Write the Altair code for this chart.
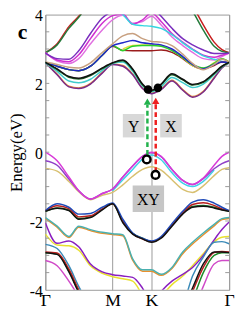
import altair as alt
import pandas as pd

# k-path positions (Γ-M-K-Γ, hexagonal path lengths)
K_PATH = [0.0, 0.175, 0.350, 0.496, 0.671, 0.846, 1.0, 1.152, 1.298, 1.444,
          1.577, 1.721, 1.882, 2.042, 2.188, 2.348, 2.509, 2.625, 2.732]
K_TICKS = [0.0, 1.0, 1.577, 2.732]
K_LABELS = ["Γ", "M", "K", "Γ"]
E_TICKS = [-4, -3, -2, -1, 0, 1, 2, 3, 4]
E_MINOR = [-3.5, -3, -2.5, -2, -1.5, -1, -0.5, 0, 0.5, 1, 1.5, 2, 2.5, 3, 3.5]
N = None

# ---- conduction bands ----
red_top = [2.89, 3.15, 3.65, 3.95, 4.4, 4.8, 5.0, 5.1, 5.1, 5.1, 5.1, 5.0, 4.9, 4.6, 4.25, 3.7, 3.2, 2.98, 2.89]
green_top = [2.89, 3.12, 3.6, 3.92, 4.38, 4.8, 5.0, 5.1, 5.1, 5.1, 5.1, 5.0, 4.85, 4.5, 4.1, 3.55, 3.08, 2.93, 2.89]
violet_c = [2.88, 2.72, 2.7, 2.95, 3.45, 3.9, 4.1, 4.2, 4.25, 4.3, 4.25, 3.95, 3.6, 3.3, 3.12, 2.97, 2.87, 2.87, 2.88]
magenta_c1 = [2.89, 2.68, 2.63, 2.83, 3.3, 3.75, 3.97, 4.02, 3.72, 3.85, 4.05, 3.8, 3.45, 3.2, 3.0, 2.82, 2.76, 2.82, 2.88]
magenta_c2 = [2.9, 2.65, 2.58, 2.72, 3.15, 3.55, 3.85, 3.98, 3.75, 3.8, 3.95, 3.7, 3.35, 3.1, 2.9, 2.72, 2.68, 2.78, 2.88]
cyan_c = [N, N, N, N, N, N, 4.2, 4.0, 3.72, 3.68, 3.66, 3.6, 3.42, 3.18, 2.98, 2.8, 2.7, 2.64, 2.62]
blue_c = [2.61, 2.5, 2.4, 2.37, 2.5, 2.82, 3.1, 3.18, 3.25, 3.18, 3.15, 3.12, 3.0, 2.78, 2.55, 2.42, 2.55, 2.62, 2.61]
tan_c = [2.62, 2.55, 2.47, 2.45, 2.6, 2.9, 3.15, 3.38, 3.45, 3.3, 3.22, 3.2, 3.1, 2.85, 2.58, 2.4, 2.55, 2.7, 2.62]
green_c = [2.61, 2.5, 2.4, 2.37, 2.5, 2.82, 3.1, 2.95, 3.08, 3.1, 3.1, 3.08, 2.95, 2.75, 2.55, 2.45, 2.58, 2.72, 2.62]
darkred_c = [2.61, 2.5, 2.4, 2.37, 2.5, 2.82, 3.08, 2.96, 2.95, 2.95, 2.95, 2.97, 2.9, 2.72, 2.52, 2.43, 2.52, 2.62, 2.61]
yellow_c = [N, N, N, N, N, N, N, 3.0, 3.1, 3.12, 3.12, 3.1, 2.97, 2.75, 2.52, 2.42, 2.6, 2.72, 2.62]
black_c = [2.61, 2.42, 2.2, 2.15, 2.25, 2.45, 2.6, 2.68, 2.42, 1.98, 1.8, 1.98, 2.28, 2.12, 1.97, 2.05, 2.3, 2.5, 2.61]
dkgreen_c = [2.61, 2.4, 2.18, 2.13, 2.23, 2.43, 2.59, 2.66, 2.4, 1.96, 1.78, 1.96, 2.25, 2.1, 1.95, 2.03, 2.28, 2.49, 2.61]
cyan_c1 = [2.6, 2.35, 2.07, 2.02, 2.12, 2.38, 2.58, 2.62, 2.35, 1.93, 1.76, 1.9, 2.17, 2.02, 1.88, 1.98, 2.25, 2.48, 2.6]
purple_c1 = [2.6, 2.25, 1.9, 1.85, 1.98, 2.3, 2.55, 2.5, 2.25, 1.85, 1.7, 1.82, 2.07, 1.8, 1.6, 1.75, 2.15, 2.45, 2.6]
orange_c1 = [2.6, 2.27, 1.92, 1.87, 2.0, 2.32, 2.56, 2.52, 2.27, 1.87, 1.72, 1.84, 2.09, 1.82, 1.62, 1.77, 2.17, 2.46, 2.6]

# ---- valence bands ----
magenta_v = [0.0, -0.25, -0.72, -1.12, -1.36, -1.2, -1.07, -0.72, -0.4, -0.12, 0.0, -0.12, -0.5, -0.82, -0.94, -0.75, -0.38, -0.12, 0.0]
violet_v = [-0.25, -0.38, -0.78, -1.12, -1.36, -1.2, -1.07, -0.72, -0.4, -0.12, -0.02, -0.13, -0.5, -0.82, -0.94, -0.77, -0.48, -0.33, -0.25]
cyan_v = [N, N, N, N, N, N, -1.12, -0.8, -0.5, -0.2, -0.08, -0.22, -0.6, -0.9, -1.0, -0.85, -0.52, N, N]
tan_v = [-0.47, -0.55, -0.85, -1.15, -1.38, -1.25, -1.17, -0.95, -0.7, -0.5, -0.42, -0.52, -0.8, -1.08, -1.17, -0.98, -0.68, -0.5, -0.45]
blue_v2 = [-1.7, -1.5, -1.6, -1.8, -1.78, -1.6, -1.48, -1.95, -2.35, -2.5, -2.58, -2.45, -2.08, -1.72, -1.45, -1.38, -1.48, -1.6, -1.7]
red_v2 = [-1.7, -1.56, -1.64, -1.88, -1.85, -1.65, -1.5, -2.0, -2.37, -2.52, -2.6, -2.48, -2.12, -1.76, -1.52, -1.47, -1.55, -1.65, -1.7]
black_v2 = [-1.72, -1.63, -1.7, -1.95, -1.9, -1.68, -1.5, -2.05, -2.38, -2.52, -2.62, -2.5, -2.15, -1.8, -1.6, -1.57, -1.62, -1.68, -1.72]
green_v2 = [-1.72, -1.62, -1.68, -1.93, -1.88, -1.66, -1.5, -2.02, -2.36, -2.5, -2.6, -2.48, -2.13, -1.78, -1.58, -1.55, -1.6, -1.67, -1.72]
teal_v3 = [-1.9, -2.15, -2.45, -2.15, -2.25, -2.33, -2.37, -2.4, -3.1, -3.42, -3.42, -3.55, -3.35, -2.9, -2.62, -2.35, -2.1, -1.93, -1.9]
orange_v3 = [-1.93, -2.18, -2.48, -2.18, -2.28, -2.36, -2.39, -2.43, -3.14, -3.46, -3.46, -3.58, -3.38, -2.95, -2.67, -2.4, -2.14, -1.96, -1.93]
purple_v4 = [-2.05, -2.65, -2.58, -2.75, -3.25, -3.48, -3.56, -3.6, -3.64, -3.95, -4.4, -4.05, -3.75, -3.55, -3.35, -3.0, -2.55, -2.25, -2.03]
yellow_v4 = [-2.38, -2.7, -2.72, -2.85, -3.3, -3.52, -3.62, -3.68, -3.75, -4.15, -4.5, -4.2, -3.85, -3.6, -3.3, -2.95, -2.6, -2.47, -2.45]
red_v5 = [-2.9, -2.93, -3.4, -4.0, -4.6, -5.0, -5.2, -5.3, -5.3, -5.3, -5.3, -5.3, -5.2, -4.7, -4.05, -3.35, -2.92, -2.89, -2.9]
black_v5 = [-2.92, -2.97, -3.48, -4.08, -4.7, -5.0, -5.2, -5.3, -5.3, -5.3, -5.3, -5.3, -5.2, -4.6, -3.95, -3.25, -2.9, -2.9, -2.92]
dkgreen_v5 = [-2.92, -2.95, -3.45, -4.05, -4.65, -5.0, -5.2, -5.3, -5.3, -5.3, -5.3, -5.3, -5.2, -4.9, -4.3, -3.5, -3.0, -2.92, -2.92]
teal_v5 = [-2.68, -2.8, -3.3, -3.9, -4.5, -5.0, -5.2, -5.3, -5.3, -5.3, -5.3, -5.3, -5.2, -4.5, -3.6, -3.05, -2.62, -2.6, -2.66]
magenta_v5 = [-3.15, -3.3, -3.75, -4.2, -4.8, -5.2, -5.3, -5.3, -5.3, -5.3, -5.3, -5.3, -5.3, -5.2, -4.7, -3.9, -3.25, -3.15, -3.15]

BANDS = [
    ("red_top", "#c81e1e", red_top), ("green_top", "#237a3a", green_top),
    ("magenta_c2", "#e070e0", magenta_c2), ("magenta_c1", "#d02ed0", magenta_c1),
    ("violet_c", "#7a2fbe", violet_c), ("cyan_c", "#33d6e0", cyan_c),
    ("darkred_c", "#9b1c1c", darkred_c), ("yellow_c", "#e6dc3c", yellow_c),
    ("green_c", "#2bd02b", green_c), ("blue_c", "#1f28c8", blue_c), ("tan_c", "#c8a080", tan_c),
    ("orange_c1", "#e0903a", orange_c1), ("purple_c1", "#7a2a8a", purple_c1),
    ("cyan_c1", "#40cccc", cyan_c1), ("dkgreen_c", "#1f6a2a", dkgreen_c), ("black_c", "#111111", black_c),
    ("tan_v", "#d8c070", tan_v), ("cyan_v", "#40d0e8", cyan_v),
    ("violet_v", "#9040c8", violet_v), ("magenta_v", "#d83ad8", magenta_v),
    ("green_v2", "#1f7a2a", green_v2), ("red_v2", "#b81e1e", red_v2),
    ("blue_v2", "#1f4ab8", blue_v2), ("black_v2", "#111111", black_v2),
    ("orange_v3", "#e8902e", orange_v3), ("teal_v3", "#4ab0b0", teal_v3),
    ("yellow_v4", "#e8e030", yellow_v4), ("purple_v4", "#8a1fc0", purple_v4),
    ("magenta_v5", "#d04ac8", magenta_v5), ("teal_v5", "#3a8ab8", teal_v5),
    ("dkgreen_v5", "#1f8a2a", dkgreen_v5), ("red_v5", "#b81e1e", red_v5), ("black_v5", "#111111", black_v5),
]

# ---- annotations ----
DOT_K = [1.527, 1.673]
DOT_E = [1.82, 1.87]
HOLE_K = [1.507, 1.638]
HOLE_E = [-0.21, -0.66]
ARROW_K = [1.517, 1.641]
ARROW_FROM = [-0.08, -0.58]
ARROW_TO = [1.38, 1.4]
ARROW_HEAD = [1.47, 1.49]
ARROW_COLOR = ["#22b24c", "#ee2020"]
BOX_TEXT = ["Y", "X", "XY"]
BOX_K1 = [1.152, 1.707, 1.298]
BOX_K2 = [1.473, 2.028, 1.765]
BOX_E1 = [0.43, 0.43, -1.74]
BOX_E2 = [1.11, 1.11, -0.97]
BOX_FILL = ["#d8d8d8", "#d8d8d8", "#c6c6c6"]
PANEL_LABEL = "c"
PANEL_K = [-0.34]
PANEL_E = [3.5]

FONT = "Liberation Serif"

rows = []
for name, col, vals in BANDS:
    for k, e in zip(K_PATH, vals):
        if e is not None:
            rows.append({"band": name, "k": k, "E": e})
bands_df = pd.DataFrame(rows)

xscale = alt.Scale(domain=[0, 2.732], nice=False, zero=False)
yscale = alt.Scale(domain=[-4, 4], nice=False)

label_expr = ("datum.value < 0.5 ? 'Γ' : datum.value < 1.3 ? 'M' : "
              "datum.value < 2.0 ? 'K' : 'Γ'")

lines = alt.Chart(bands_df).mark_line(clip=True, strokeWidth=1.5, interpolate="monotone").encode(
    x=alt.X("k:Q", scale=xscale,
            axis=alt.Axis(values=K_TICKS, labelExpr=label_expr, grid=True, gridColor="#9a9a9a",
                          gridWidth=1, ticks=False, domain=False, title=None,
                          labelFont=FONT, labelFontSize=18, labelColor="black",
                          labelPadding=2, labelFlush=False)),
    y=alt.Y("E:Q", scale=yscale,
            axis=alt.Axis(values=E_TICKS, labelExpr="'' + datum.value", ticks=False, domain=False,
                          grid=False, title="Energy(eV)", titleFont=FONT, titleFontSize=17,
                          titleFontWeight="normal", titleColor="black", titlePadding=4,
                          labelFont=FONT, labelFontSize=16, labelColor="black", labelPadding=3,
                          labelOffset=1.5)),
    color=alt.Color("band:N", scale=alt.Scale(domain=[b[0] for b in BANDS], range=[b[1] for b in BANDS]),
                    legend=None),
    detail="band:N",
)

minor_df = pd.DataFrame({"E": E_MINOR})
ticks_left = alt.Chart(minor_df).mark_rule(color="#9a9a9a", strokeWidth=1).encode(
    y=alt.Y("E:Q", scale=yscale), x=alt.value(0), x2=alt.value(4))
ticks_right = alt.Chart(minor_df).mark_rule(color="#9a9a9a", strokeWidth=1).encode(
    y=alt.Y("E:Q", scale=yscale), x=alt.value(183), x2=alt.value(187))

box_df = pd.DataFrame({"t": BOX_TEXT, "k1": BOX_K1, "k2": BOX_K2, "e1": BOX_E1, "e2": BOX_E2,
                       "fill": BOX_FILL})
box_df["kc"] = (box_df.k1 + box_df.k2) / 2
box_df["ec"] = (box_df.e1 + box_df.e2) / 2
boxes = alt.Chart(box_df).mark_rect().encode(
    x=alt.X("k1:Q", scale=xscale), x2="k2:Q",
    y=alt.Y("e1:Q", scale=yscale), y2="e2:Q",
    fill=alt.Fill("fill:N", scale=None))
box_text = alt.Chart(box_df).mark_text(font=FONT, fontSize=16, color="black", baseline="middle",
                                       align="center", dy=1).encode(
    x=alt.X("kc:Q", scale=xscale), y=alt.Y("ec:Q", scale=yscale), text="t:N")

arrow_df = pd.DataFrame({"k": ARROW_K, "e0": ARROW_FROM, "e1": ARROW_TO, "eh": ARROW_HEAD,
                         "c": ARROW_COLOR})
arrows = alt.Chart(arrow_df).mark_rule(strokeWidth=2.5, strokeDash=[5, 3]).encode(
    x=alt.X("k:Q", scale=xscale), y=alt.Y("e0:Q", scale=yscale), y2="e1:Q",
    color=alt.Color("c:N", scale=None))
heads = alt.Chart(arrow_df).mark_point(shape="triangle-up", filled=True, size=55, opacity=1).encode(
    x=alt.X("k:Q", scale=xscale), y=alt.Y("eh:Q", scale=yscale),
    color=alt.Color("c:N", scale=None))

dots = alt.Chart(pd.DataFrame({"k": DOT_K, "E": DOT_E})).mark_point(
    shape="circle", filled=True, size=75, color="black", opacity=1).encode(
    x=alt.X("k:Q", scale=xscale), y=alt.Y("E:Q", scale=yscale))
holes = alt.Chart(pd.DataFrame({"k": HOLE_K, "E": HOLE_E})).mark_point(
    shape="circle", filled=True, size=60, fill="white", stroke="black", strokeWidth=2.5, opacity=1).encode(
    x=alt.X("k:Q", scale=xscale), y=alt.Y("E:Q", scale=yscale))

panel = alt.Chart(pd.DataFrame({"k": PANEL_K, "E": PANEL_E, "t": [PANEL_LABEL]})).mark_text(
    font=FONT, fontSize=22, fontWeight="bold", color="black", baseline="middle", align="center").encode(
    x=alt.X("k:Q", scale=xscale), y=alt.Y("E:Q", scale=yscale), text="t:N")

chart = alt.layer(lines, ticks_left, ticks_right, boxes, box_text, arrows, heads, dots, holes, panel).properties(
    width=187, height=280,
    autosize=alt.AutoSizeParams(type="none"),
    padding={"left": 38, "top": 4, "right": 8, "bottom": 27},
).configure_view(stroke="#9a9a9a", strokeWidth=1)

chart.save("out.html", embed_options={"renderer": "svg", "actions": False})
